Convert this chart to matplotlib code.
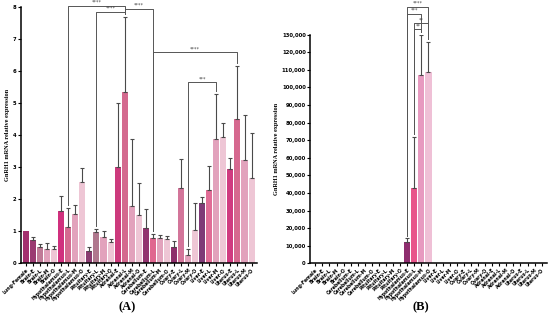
import numpy as np
import matplotlib
matplotlib.use("Agg")
import matplotlib.pyplot as plt

# ---- data -------------------------------------------------------------
stages = ["E", "L", "M", "O"]
tissues_a = ["Brain", "Hypothalamus", "Pituitary", "Adrenal",
             "Cerebellum", "Ovary", "Liver", "Uterus"]
tissues_b = ["Brain", "Cerebellum", "Pituitary", "Hypothalamus",
             "Liver", "Ovary", "Adrenal", "Uterus"]

labels_a = ["Lung-Female"] + [f"{t}-{s}" for t in tissues_a for s in stages]
labels_b = ["Lung-Female"] + [f"{t}-{s}" for t in tissues_b for s in stages]

mean_a = [1.00, 0.72, 0.52, 0.45, 0.45, 1.65, 1.15, 1.55, 2.55,
          0.40, 0.97, 0.82, 0.68, 3.00, 5.35, 1.80, 1.50,
          1.10, 0.80, 0.78, 0.75, 0.50, 2.35, 0.25, 1.05,
          1.90, 2.30, 3.90, 3.95, 2.95, 4.50, 3.22, 2.68]
upper_a = [1.00, 0.82, 0.60, 0.65, 0.55, 2.12, 1.72, 1.82, 2.98,
           0.50, 1.08, 1.00, 0.77, 5.02, 7.70, 3.90, 2.52,
           1.70, 0.93, 0.88, 0.86, 0.70, 3.27, 0.45, 1.90,
           2.07, 3.05, 5.30, 4.38, 3.28, 6.18, 4.65, 4.08]

mean_b = [0] * 33
upper_b = [0] * 33
for i, m, u in [(13, 12000, 14300), (14, 43000, 72000),
                (15, 107000, 130000), (16, 109000, 126000)]:
    mean_b[i] = m
    upper_b[i] = u

# significance brackets: (left bar, right bar, height, text)
sig_a = [(6, 14, 8.05, "****"), (10, 14, 7.86, "****"),
         (14, 18, 7.96, "****"), (18, 30, 6.60, "****"),
         (23, 27, 5.66, "***")]
sig_b = [(13, 16, 146000, "****"), (13, 15, 142000, "***"),
         (14, 16, 136500, "**"), (14, 15, 133000, "**")]

# ---- style ------------------------------------------------------------
first_a = ["#9b3a72", "#d0307e", "#8a3b70", "#cc3a7c",
           "#93346f", "#8e2f6c", "#7f3a77", "#d03a80"]
second_a = ["#c07a97", "#d46a90", "#b0788e", "#d46a8f",
            "#e0668f", "#d3759a", "#e06c96", "#d6688f"]
third = "#e2a2bc"
fourth = "#eec6d5"

colors_a = ["#a3306e"]
for g in range(8):
    colors_a += [first_a[g], second_a[g], third, fourth]
colors_b = ["#a3306e"] + ["#8e2d6e", "#e8548a", "#e79ac0", "#efc0d6"] * 8

fig = plt.figure(figsize=(5.5, 3.24), dpi=100)
ax_a = fig.add_axes([0.0376, 0.187, 0.4294, 0.790])
ax_b = fig.add_axes([0.5636, 0.187, 0.4309, 0.706])


def draw(ax, means, uppers, colors, labels, sigs, ymax, ystep, fmt):
    x = np.arange(len(means))
    means = np.array(means, dtype=float)
    uppers = np.array(uppers, dtype=float)
    ax.bar(x, means, width=0.86, color=colors, edgecolor="none")
    err = np.clip(uppers - means, 0, None)
    has = err > 0
    ax.errorbar(x[has], means[has], yerr=[np.zeros(has.sum()), err[has]],
                fmt="none", ecolor="#4a4a4a", elinewidth=0.8,
                capsize=1.3, capthick=0.8)
    ax.set_xlim(-0.75, len(means) - 0.25)
    ax.set_ylim(0, ymax)
    ax.set_yticks(np.arange(0, ymax + ystep / 2, ystep))
    ax.set_yticklabels([fmt(v) for v in np.arange(0, ymax + ystep / 2, ystep)],
                       fontsize=3.8, fontweight="bold")
    ax.set_xticks(x)
    ax.set_xticklabels(labels, rotation=45, ha="right", rotation_mode="anchor",
                       fontsize=3.3, fontweight="bold")
    ax.tick_params(axis="both", length=2, width=0.8, pad=1)
    for s in ["top", "right"]:
        ax.spines[s].set_visible(False)
    for s in ["left", "bottom"]:
        ax.spines[s].set_linewidth(1.1)
    ax.set_ylabel("GnRH1 mRNA relative expression", fontsize=4.5,
                  fontweight="bold", family="Liberation Serif", labelpad=2)

    off = ymax * 0.012
    for l, r, h, txt in sigs:
        ax.plot([l, l, r, r], [uppers[l] + off, h, h, uppers[r] + off],
                color="#555555", lw=0.7, clip_on=False)
        ax.text((l + r) / 2, h + off * 0.3, txt, ha="center", va="bottom",
                fontsize=3.5, color="#444444")


draw(ax_a, mean_a, upper_a, colors_a, labels_a, sig_a, 8, 1,
     lambda v: f"{v:.0f}")
draw(ax_b, mean_b, upper_b, colors_b, labels_b, sig_b, 130000, 10000,
     lambda v: f"{v:,.0f}")

fig.text(0.231, 0.052, "(A)", ha="center", va="center", fontsize=9,
         fontweight="bold", family="Liberation Serif")
fig.text(0.766, 0.052, "(B)", ha="center", va="center", fontsize=9,
         fontweight="bold", family="Liberation Serif")

fig.savefig("out.png", dpi=100)
